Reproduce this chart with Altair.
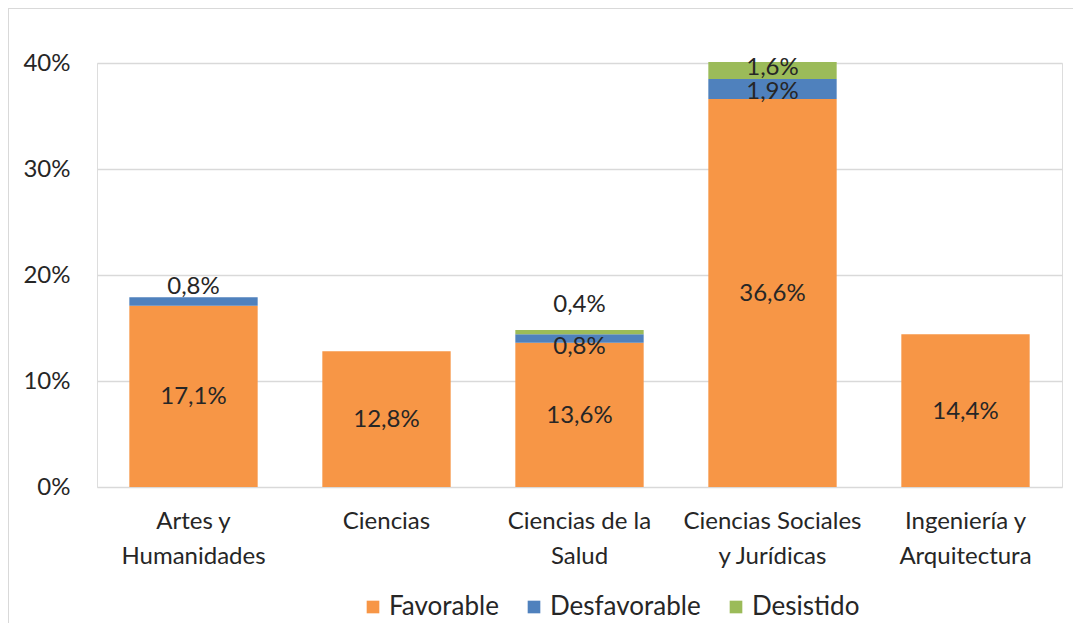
import altair as alt
import pandas as pd

categories = ["Artes y|Humanidades", "Ciencias", "Ciencias de la|Salud",
              "Ciencias Sociales|y Jurídicas", "Ingeniería y|Arquitectura"]
series = ["Favorable", "Desfavorable", "Desistido"]
favorable = [17.1, 12.8, 13.6, 36.6, 14.4]
desfavorable = [0.8, 0.0, 0.8, 1.9, 0.0]
desistido = [0.0, 0.0, 0.4, 1.6, 0.0]
colors = ["#F79646", "#4F81BD", "#9BBB59"]

rows = []
for i, c in enumerate(categories):
    base = 0.0
    for s, vals in zip(series, [favorable, desfavorable, desistido]):
        v = vals[i]
        rows.append({"cat": c, "serie": s, "order": series.index(s),
                     "v": v, "y0": base, "y1": base + v,
                     "mid": base + v / 2,
                     "label": (f"{v:.1f}%").replace(".", ","),
                     "top": base + v})
        base += v
df = pd.DataFrame(rows)
df_bars = df[df.v > 0]

FONT = "Lato"
FS = 24
TXT = "#262626"
W, H = 965, 424

xenc = alt.X("cat:N", sort=categories, title=None,
             scale=alt.Scale(paddingInner=0.335, paddingOuter=0.1675),
             axis=alt.Axis(labelExpr="split(datum.label, '|')", labelAngle=0,
                           labelFontSize=FS, labelLineHeight=35, labelPadding=22,
                           labelColor=TXT, labelFont=FONT,
                           ticks=False, domain=False))
yscale = alt.Scale(domain=[0, 40], nice=False)

bars = alt.Chart(df_bars).mark_bar().encode(
    x=xenc,
    y=alt.Y("y0:Q", scale=yscale, title=None,
            axis=alt.Axis(values=[0, 10, 20, 30, 40], labelExpr="datum.value + '%'",
                          labelFontSize=FS, labelColor=TXT, labelFont=FONT,
                          labelPadding=27, ticks=False, domain=False,
                          gridColor="#D9D9D9", gridWidth=1.5)),
    y2="y1:Q",
    color=alt.Color("serie:N", sort=series,
                    scale=alt.Scale(domain=series, range=colors),
                    legend=alt.Legend(title=None, orient="none", direction="horizontal",
                                      legendX=263, legendY=531,
                                      symbolType="square", symbolSize=160,
                                      symbolStrokeWidth=0, labelFontSize=26,
                                      labelFont=FONT, labelColor=TXT,
                                      columnPadding=22, labelOffset=3)),
    order="order:Q",
)

def txt(data, dy=0, baseline="middle", field="mid"):
    return alt.Chart(data).mark_text(font=FONT, fontSize=FS, color=TXT,
                                     dy=dy, baseline=baseline).encode(
        x=alt.X("cat:N", sort=categories),
        y=alt.Y(f"{field}:Q", scale=yscale),
        text="label:N")

fav = df[(df.serie == "Favorable")]
soc_des = df[(df.cat == categories[3]) & (df.serie == "Desfavorable")]
soc_dis = df[(df.cat == categories[3]) & (df.serie == "Desistido")]
artes_top = df[(df.cat == categories[0]) & (df.serie == "Desfavorable")]
salud_des = df[(df.cat == categories[2]) & (df.serie == "Desfavorable")]
salud_dis = df[(df.cat == categories[2]) & (df.serie == "Desistido")]

border = alt.Chart(pd.DataFrame({"a": [0]})).mark_rect(
    fill=None, stroke="#D9D9D9", strokeWidth=2).encode(
    x=alt.value(-89), x2=alt.value(1100), y=alt.value(-55), y2=alt.value(700))

chart = alt.layer(
    border,
    bars,
    txt(fav, dy=1),
    txt(soc_des, dy=3),
    txt(soc_dis, dy=-2),
    txt(artes_top, dy=-10, field="top"),
    txt(salud_des, dy=8),
    txt(salud_dis, dy=-25, field="top"),
).properties(
    width=W, height=H,
    autosize=alt.AutoSizeParams(type="none"),
    padding={"left": 89, "top": 55, "right": 11, "bottom": 136},
).configure_view(stroke=None).configure(background="white")

chart.save("out.html", embed_options={"renderer": "svg", "actions": False})
